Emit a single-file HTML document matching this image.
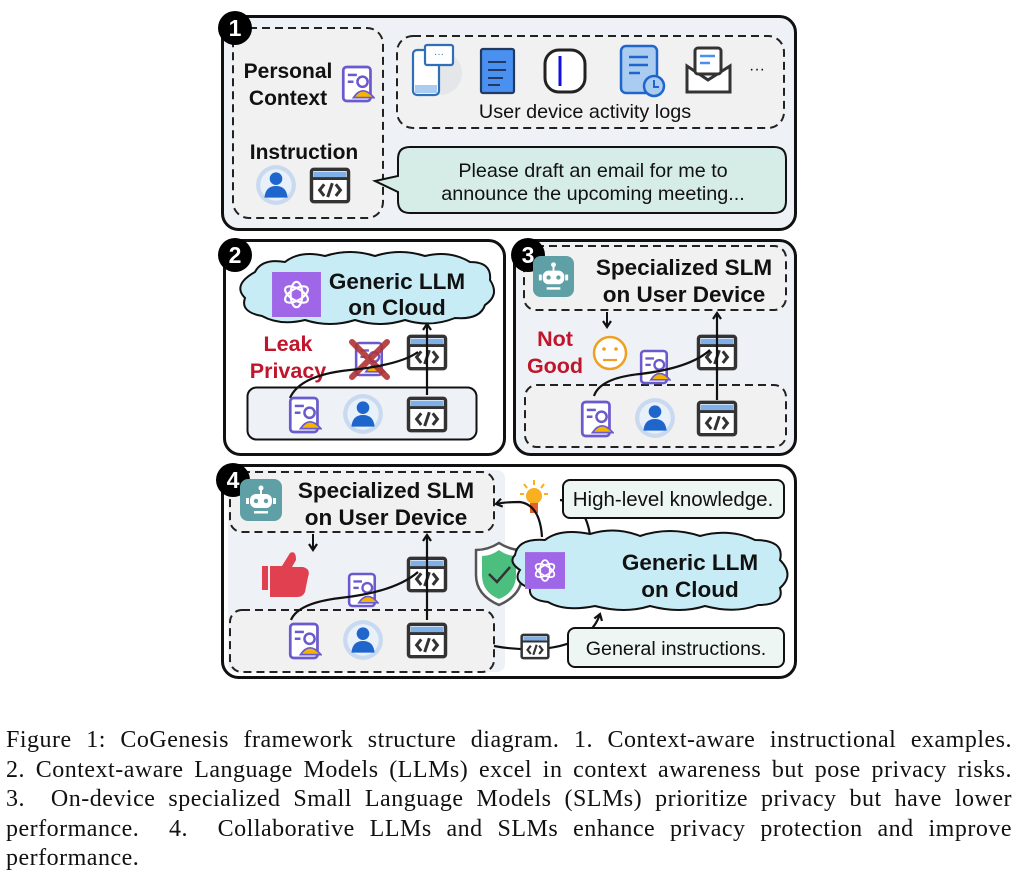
<!DOCTYPE html>
<html><head><meta charset="utf-8">
<style>
html,body{margin:0;padding:0;background:#fff;}
body{width:1020px;height:887px;position:relative;overflow:hidden;}
svg{position:absolute;left:0;top:0;}
.sans{font-family:"Liberation Sans",Arial,sans-serif;}
.cap{position:absolute;left:6px;top:726px;width:1006px;font-family:"Liberation Serif","DejaVu Serif",serif;font-size:24px;letter-spacing:0.5px;color:#111;}
.cap div{height:29.6px;line-height:29.6px;text-align:justify;text-align-last:justify;white-space:nowrap;}
.cap div.last{text-align-last:left;}
</style></head><body>
<svg width="1020" height="720" viewBox="0 0 1020 720" xmlns="http://www.w3.org/2000/svg" class="sans">
<defs>
<marker id="ah" markerWidth="10" markerHeight="10" refX="7" refY="5" orient="auto" markerUnits="userSpaceOnUse">
<path d="M1,1 L7,5 L1,9" fill="none" stroke="#111" stroke-width="2.2"/>
</marker>
<symbol id="contact" viewBox="0 0 30 34">
<rect x="2" y="2" width="24" height="30" rx="3" fill="#fff" stroke="#6a5acd" stroke-width="2.4"/>
<line x1="6" y1="9" x2="14" y2="9" stroke="#6a5acd" stroke-width="2.2"/>
<line x1="6" y1="15" x2="11" y2="15" stroke="#6a5acd" stroke-width="2.2"/>
<circle cx="19" cy="15" r="4.5" fill="#fff" stroke="#6a5acd" stroke-width="2.2"/>
<path d="M11,29 Q19,17 29,29 Z" fill="#f4b400" stroke="#6a5acd" stroke-width="1.5"/>
</symbol>
<symbol id="user" viewBox="0 0 40 40">
<circle cx="20" cy="20" r="19" fill="#c9daf0"/>
<circle cx="20" cy="20" r="15" fill="#e8f0fa"/>
<circle cx="20" cy="14" r="6" fill="#1f66cc"/>
<path d="M9,32 Q10,21 20,21 Q30,21 31,32 Z" fill="#1f66cc"/>
</symbol>
<symbol id="code" viewBox="0 0 36 32">
<rect x="2" y="2" width="32" height="28" rx="2" fill="#fff" stroke="#333" stroke-width="3"/>
<rect x="4" y="4" width="28" height="5" fill="#7fb0e8"/>
<line x1="3" y1="10" x2="33" y2="10" stroke="#333" stroke-width="2.5"/>
<path d="M13,15 L9,20 L13,25 M23,15 L27,20 L23,25 M20,14 L16,26" fill="none" stroke="#333" stroke-width="2.6"/>
</symbol>
<symbol id="robot" viewBox="0 0 42 42">
<rect x="0" y="0" width="42" height="42" rx="8" fill="#5f9fa6"/>
<circle cx="21" cy="9" r="2.5" fill="#fff"/>
<line x1="21" y1="11" x2="21" y2="15" stroke="#fff" stroke-width="2"/>
<rect x="10" y="15" width="22" height="14" rx="6" fill="#fff"/>
<circle cx="16" cy="22" r="2.2" fill="#5f9fa6"/><circle cx="26" cy="22" r="2.2" fill="#5f9fa6"/>
<rect x="6" y="19" width="3" height="6" fill="#fff"/><rect x="33" y="19" width="3" height="6" fill="#fff"/>
<rect x="14" y="32" width="14" height="2.5" fill="#fff"/>
</symbol>
<symbol id="openai" viewBox="0 0 50 46">
<rect x="0" y="0" width="50" height="46" fill="#a066e8"/>
<g fill="none" stroke="#fff" stroke-width="2.2" transform="translate(25,23)">
<ellipse rx="6" ry="13" transform="rotate(0)"/>
<ellipse rx="6" ry="13" transform="rotate(60)"/>
<ellipse rx="6" ry="13" transform="rotate(120)"/>
</g>
</symbol>
</defs>

<!-- ===== Panel 1 ===== -->
<rect x="222.5" y="16.5" width="573" height="213" rx="16" fill="#eef2f7" stroke="#111" stroke-width="3"/>
<rect x="233" y="28" width="150" height="190" rx="16" fill="#f1f1f1" stroke="#222" stroke-width="2" stroke-dasharray="8,5"/>
<rect x="397" y="36" width="387" height="92" rx="16" fill="#f1f1f1" stroke="#222" stroke-width="2" stroke-dasharray="8,5"/>
<circle cx="235" cy="28" r="17" fill="#000"/>
<text x="235" y="36" text-anchor="middle" font-size="23" font-weight="bold" fill="#fff">1</text>
<text x="288" y="78" text-anchor="middle" font-size="21" font-weight="bold" fill="#111">Personal</text>
<text x="288" y="105" text-anchor="middle" font-size="21" font-weight="bold" fill="#111">Context</text>
<use href="#contact" x="341" y="64" width="34" height="40"/>
<text x="304" y="159" text-anchor="middle" font-size="21" font-weight="bold" fill="#111">Instruction</text>
<use href="#user" x="255" y="164" width="42" height="42"/>
<use href="#code" x="309" y="167" width="42" height="37"/>
<!-- device icons -->
<circle cx="440" cy="73" r="22" fill="#e4e6ea"/>
<rect x="413" y="50" width="26" height="45" rx="4" fill="#fff" stroke="#2f6fb8" stroke-width="2.2"/>
<rect x="415" y="85" width="22" height="8" fill="#a9ccf0"/>
<rect x="425" y="45" width="28" height="20" rx="2" fill="#fff" stroke="#2f6fb8" stroke-width="2.2"/>
<text x="439" y="57" text-anchor="middle" font-size="10" fill="#2f6fb8">···</text>
<rect x="481" y="49" width="33" height="44" rx="2" fill="#4a90f0" stroke="#223a5e" stroke-width="2.2"/>
<line x1="488" y1="62" x2="506" y2="62" stroke="#223a5e" stroke-width="2"/>
<line x1="488" y1="70" x2="506" y2="70" stroke="#223a5e" stroke-width="2"/>
<line x1="488" y1="78" x2="503" y2="78" stroke="#223a5e" stroke-width="2"/>
<line x1="488" y1="85" x2="500" y2="85" stroke="#223a5e" stroke-width="2"/>
<rect x="545" y="50" width="40" height="42" rx="14" fill="#fff" stroke="#222" stroke-width="3"/>
<line x1="560" y1="56" x2="560" y2="86" stroke="#1010e0" stroke-width="3"/>
<rect x="621" y="46" width="36" height="47" rx="5" fill="#a9ccf0" stroke="#1f66cc" stroke-width="2.5"/>
<line x1="629" y1="57" x2="648" y2="57" stroke="#1f66cc" stroke-width="2.5"/>
<line x1="629" y1="65" x2="648" y2="65" stroke="#1f66cc" stroke-width="2.5"/>
<line x1="629" y1="73" x2="640" y2="73" stroke="#1f66cc" stroke-width="2.5"/>
<circle cx="654" cy="86" r="10" fill="#a9ccf0" stroke="#1f66cc" stroke-width="2.5"/>
<path d="M654,80 L654,87 L659,87" fill="none" stroke="#1f66cc" stroke-width="2"/>
<path d="M687,66 L687,92 L730,92 L730,66 L708,80 Z" fill="#fff" stroke="#333" stroke-width="3"/>
<rect x="695" y="48" width="26" height="26" rx="3" fill="#fff" stroke="#333" stroke-width="3"/>
<line x1="700" y1="56" x2="715" y2="56" stroke="#4a90f0" stroke-width="2.5"/>
<line x1="700" y1="63" x2="710" y2="63" stroke="#4a90f0" stroke-width="2.5"/>
<text x="757" y="74" text-anchor="middle" font-size="16" fill="#111">···</text>
<text x="585" y="118" text-anchor="middle" font-size="19.8" fill="#111">User device activity logs</text>
<!-- speech bubble -->
<path d="M410,147 L774,147 Q786,147 786,159 L786,201 Q786,213 774,213 L410,213 Q398,213 398,201 L398,192 L375,181 L398,176 L398,159 Q398,147 410,147 Z" fill="#d6ece6" stroke="#111" stroke-width="2"/>
<text x="593" y="177" text-anchor="middle" font-size="19.8" fill="#111">Please draft an email for me to</text>
<text x="593" y="200" text-anchor="middle" font-size="19.8" fill="#111">announce the upcoming meeting...</text>

<!-- ===== Panel 2 ===== -->
<rect x="224.5" y="240.5" width="280" height="214" rx="16" fill="#fff" stroke="#111" stroke-width="3"/>
<circle cx="235" cy="255" r="17" fill="#000"/>
<text x="235" y="263" text-anchor="middle" font-size="23" font-weight="bold" fill="#fff">2</text>
<path d="M255,272 Q262,258 285,262 Q300,250 325,256 Q350,248 375,256 Q400,248 425,256 Q450,250 470,262 Q492,262 490,280 Q500,295 485,305 Q480,320 455,318 Q430,328 405,320 Q380,328 355,320 Q330,328 305,320 Q280,326 262,316 Q240,312 245,298 Q232,285 255,272 Z" fill="#c8ecf6" stroke="#111" stroke-width="2"/>
<use href="#openai" x="272" y="272" width="49" height="45"/>
<text x="397" y="289" text-anchor="middle" font-size="22.5" font-weight="bold" fill="#111">Generic LLM</text>
<text x="397" y="315" text-anchor="middle" font-size="22.5" font-weight="bold" fill="#111">on Cloud</text>
<text x="288" y="351" text-anchor="middle" font-size="21.5" font-weight="bold" fill="#c0152a">Leak</text>
<text x="288" y="378" text-anchor="middle" font-size="21.5" font-weight="bold" fill="#c0152a">Privacy</text>
<rect x="247.5" y="387.5" width="229" height="52" rx="9" fill="#eef2f7" stroke="#111" stroke-width="2"/>
<use href="#contact" x="354" y="340" width="32" height="38"/>
<path d="M352,342 L387,377 M387,342 L352,377" stroke="#b03434" stroke-width="6" stroke-linecap="round" opacity="0.9"/>
<use href="#code" x="406" y="334" width="42" height="37"/>
<line x1="427" y1="395" x2="427" y2="324" stroke="#111" stroke-width="2.2" marker-end="url(#ah)"/>
<path d="M290,398 Q300,375 350,370 Q400,365 418,352" fill="none" stroke="#111" stroke-width="2.2"/>
<use href="#contact" x="288" y="395" width="34" height="40"/>
<use href="#user" x="342" y="393" width="42" height="42"/>
<use href="#code" x="406" y="396" width="42" height="37"/>

<!-- ===== Panel 3 ===== -->
<rect x="514.5" y="240.5" width="281" height="214" rx="16" fill="#eef2f7" stroke="#111" stroke-width="3"/>
<rect x="524" y="246" width="262" height="64" rx="12" fill="#f1f1f1" stroke="#222" stroke-width="2" stroke-dasharray="8,5"/>
<circle cx="528" cy="255" r="17" fill="#000"/>
<text x="528" y="263" text-anchor="middle" font-size="23" font-weight="bold" fill="#fff">3</text>
<use href="#robot" x="533" y="256" width="41" height="41"/>
<text x="684" y="275" text-anchor="middle" font-size="22.5" font-weight="bold" fill="#111">Specialized SLM</text>
<text x="684" y="302" text-anchor="middle" font-size="22.5" font-weight="bold" fill="#111">on User Device</text>
<line x1="607" y1="312" x2="607" y2="327" stroke="#111" stroke-width="2" marker-end="url(#ah)"/>
<text x="555" y="346" text-anchor="middle" font-size="21.5" font-weight="bold" fill="#c0152a">Not</text>
<text x="555" y="373" text-anchor="middle" font-size="21.5" font-weight="bold" fill="#c0152a">Good</text>
<circle cx="610" cy="353" r="16" fill="#fff" stroke="#f0a020" stroke-width="2.5"/>
<circle cx="604" cy="349" r="1.8" fill="#f0a020"/><circle cx="616" cy="349" r="1.8" fill="#f0a020"/>
<line x1="603" y1="360" x2="617" y2="360" stroke="#f0a020" stroke-width="2.2"/>
<rect x="525" y="385" width="261" height="62" rx="12" fill="#f1f1f1" stroke="#222" stroke-width="2" stroke-dasharray="8,5"/>
<use href="#contact" x="639" y="348" width="32" height="38"/>
<use href="#code" x="696" y="334" width="42" height="37"/>
<line x1="717" y1="400" x2="717" y2="313" stroke="#111" stroke-width="2.2" marker-end="url(#ah)"/>
<path d="M594,396 Q600,378 640,374 Q690,368 710,350" fill="none" stroke="#111" stroke-width="2.2"/>
<use href="#contact" x="580" y="399" width="34" height="40"/>
<use href="#user" x="634" y="397" width="42" height="42"/>
<use href="#code" x="696" y="400" width="42" height="37"/>

<!-- ===== Panel 4 ===== -->
<rect x="222.5" y="465.5" width="573" height="212" rx="16" fill="#fff" stroke="#111" stroke-width="3"/>
<rect x="228" y="470" width="277" height="202" rx="8" fill="#eef2f7"/>
<rect x="230" y="472" width="264" height="60" rx="12" fill="#f1f1f1" stroke="#222" stroke-width="2" stroke-dasharray="8,5"/>
<circle cx="233" cy="480" r="17" fill="#000"/>
<text x="233" y="488" text-anchor="middle" font-size="23" font-weight="bold" fill="#fff">4</text>
<use href="#robot" x="240" y="479" width="42" height="42"/>
<text x="386" y="498" text-anchor="middle" font-size="22.5" font-weight="bold" fill="#111">Specialized SLM</text>
<text x="386" y="525" text-anchor="middle" font-size="22.5" font-weight="bold" fill="#111">on User Device</text>
<line x1="313" y1="534" x2="313" y2="550" stroke="#111" stroke-width="2" marker-end="url(#ah)"/>
<path d="M262,566 L268,566 L268,590 L262,590 Z M270,566 L282,566 L290,553 Q296,550 296,560 L292,567 L303,567 Q311,569 308,577 L305,592 Q303,597 297,597 L270,597 Z" fill="#e04050"/>
<rect x="230" y="610" width="264" height="62" rx="12" fill="#f1f1f1" stroke="#222" stroke-width="2" stroke-dasharray="8,5"/>
<use href="#contact" x="347" y="571" width="32" height="38"/>
<use href="#code" x="406" y="556" width="42" height="37"/>
<line x1="427" y1="620" x2="427" y2="535" stroke="#111" stroke-width="2.2" marker-end="url(#ah)"/>
<path d="M291,620 Q298,603 340,598 Q395,592 418,572" fill="none" stroke="#111" stroke-width="2.2"/>
<use href="#contact" x="288" y="621" width="34" height="40"/>
<use href="#user" x="342" y="619" width="42" height="42"/>
<use href="#code" x="406" y="622" width="42" height="37"/>
<!-- bulb -->
<circle cx="534" cy="496" r="8" fill="#f8b020"/>
<rect x="530" y="503" width="8" height="10" fill="#e06030"/>
<path d="M524,484 L527,488 M534,480 L534,485 M544,484 L541,488 M520,494 L524,494 M548,494 L544,494" stroke="#f8b020" stroke-width="2"/>
<path d="M542,537 Q540,505 520,502 Q505,502 496,504" fill="none" stroke="#111" stroke-width="2.2" marker-end="url(#ah)"/>
<path d="M590,535 Q585,502 560,500" fill="none" stroke="#111" stroke-width="2.2"/>
<rect x="563" y="480" width="221" height="38" rx="7" fill="#eef6f4" stroke="#111" stroke-width="2"/>
<text x="673" y="506" text-anchor="middle" font-size="20.5" fill="#111">High-level knowledge.</text>
<!-- shield -->
<path d="M499,543 Q488,550 476,550 L476,575 Q476,595 499,605 Q522,595 522,575 L522,550 Q510,550 499,543 Z" fill="#fff" stroke="#555" stroke-width="2.5"/>
<path d="M499,550 Q491,556 482,556 L482,575 Q482,592 499,599 Q516,592 516,575 L516,556 Q507,556 499,550 Z" fill="#4cbf7f"/>
<path d="M489,574 L497,582 L510,567" fill="none" stroke="#333" stroke-width="2.5"/>
<!-- cloud 4 -->
<path d="M515,555 Q518,538 545,540 Q560,528 590,534 Q615,526 640,536 Q670,526 700,536 Q730,528 755,540 Q785,540 780,560 Q795,575 780,588 Q785,605 758,605 Q735,614 705,606 Q680,614 650,606 Q625,614 595,606 Q565,612 548,602 Q528,600 530,588 Q512,582 520,570 Q508,562 515,555 Z" fill="#c8ecf6" stroke="#111" stroke-width="2"/>
<use href="#openai" x="525" y="551" width="40" height="39"/>
<text x="690" y="570" text-anchor="middle" font-size="22.5" font-weight="bold" fill="#111">Generic LLM</text>
<text x="690" y="597" text-anchor="middle" font-size="22.5" font-weight="bold" fill="#111">on Cloud</text>
<path d="M494,646 Q515,650 540,649 Q590,645 600,614" fill="none" stroke="#111" stroke-width="2.2" marker-end="url(#ah)"/>
<use href="#code" x="520" y="633" width="30" height="27"/>
<rect x="568" y="628" width="216" height="39" rx="7" fill="#eef6f4" stroke="#111" stroke-width="2"/>
<text x="676" y="655" text-anchor="middle" font-size="19.7" fill="#111">General instructions.</text>
</svg>
<div class="cap">
<div>Figure 1: CoGenesis framework structure diagram. 1. Context-aware instructional examples.</div>
<div>2. Context-aware Language Models (LLMs) excel in context awareness but pose privacy risks.</div>
<div>3.&nbsp; On-device specialized Small Language Models (SLMs) prioritize privacy but have lower</div>
<div>performance.&nbsp; 4.&nbsp; Collaborative LLMs and SLMs enhance privacy protection and improve</div>
<div class="last">performance.</div>
</div>
</body></html>
